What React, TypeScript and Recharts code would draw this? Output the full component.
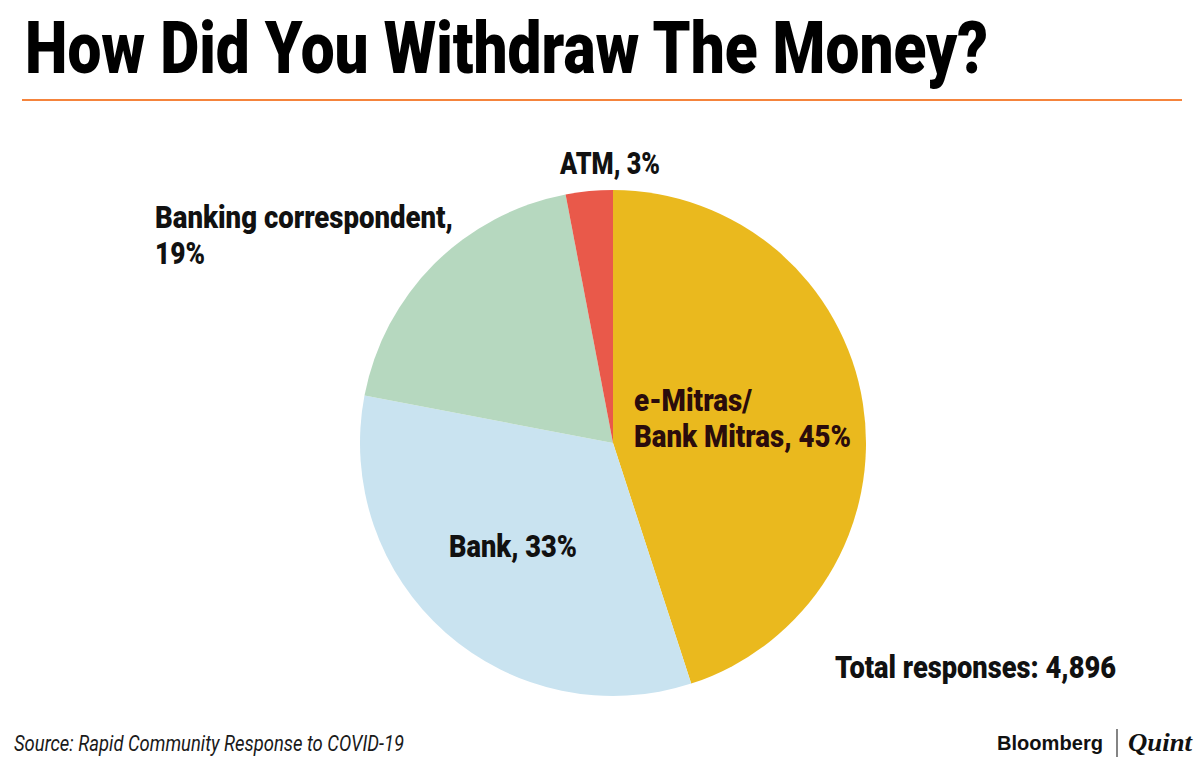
import React from "react";
import { PieChart, Pie, Cell } from "recharts";

const categories = ["e-Mitras/Bank Mitras", "Bank", "Banking correspondent", "ATM"];
const shares = [45, 33, 19, 3];
const colors = ["#EAB91E", "#C9E3F0", "#B6D8BF", "#E9594A"];

const title = "How Did You Withdraw The Money?";
const source = "Source: Rapid Community Response to COVID-19";
const totalNote = "Total responses: 4,896";

const data = categories.map((name, i) => ({ name, value: shares[i] }));

type Line = { text: string; x: number; y: number; w: number; fill?: string };

const labelLines: Line[] = [
  { text: "e-Mitras/", x: 634, y: 411, w: 118, fill: "#2a0c0c" },
  { text: `Bank Mitras, ${shares[0]}%`, x: 634, y: 447, w: 217, fill: "#2a0c0c" },
  { text: `Bank, ${shares[1]}%`, x: 449, y: 557, w: 128 },
  { text: "Banking correspondent,", x: 155, y: 228, w: 298 },
  { text: `${shares[2]}%`, x: 155, y: 264, w: 50 },
  { text: `ATM, ${shares[3]}%`, x: 560, y: 174, w: 100 },
  { text: totalNote, x: 835, y: 678, w: 281 },
];

const FONT = "Roboto, 'Noto Sans', sans-serif";

const T = ({ l, size = 32 }: { l: Line; size?: number }) => (
  <text
    x={l.x}
    y={l.y}
    fontFamily={FONT}
    fontWeight={900}
    fontSize={size}
    fill={l.fill || "#111"}
    textLength={l.w}
    lengthAdjust="spacingAndGlyphs"
  >
    {l.text}
  </text>
);

export default function App() {
  return (
    <div style={{ position: "absolute", left: 0, top: 0, width: 1200, height: 766, background: "#fff" }}>
      <PieChart
        width={1200}
        height={766}
        margin={{ top: 0, right: 0, bottom: 0, left: 0 }}
        style={{ position: "absolute", left: 0, top: 0 }}
      >
        <Pie
          data={data}
          dataKey="value"
          nameKey="name"
          cx={613}
          cy={443}
          outerRadius={253}
          startAngle={90}
          endAngle={-270}
          stroke="none"
          isAnimationActive={false}
        >
          {data.map((d, i) => (
            <Cell key={d.name} fill={colors[i]} />
          ))}
        </Pie>
      </PieChart>
      <svg width={1200} height={766} style={{ position: "absolute", left: 0, top: 0, pointerEvents: "none" }}>
        <text
          x={25}
          y={73}
          fontFamily={FONT}
          fontWeight={900}
          fontSize={72}
          fill="#000"
          textLength={963}
          lengthAdjust="spacingAndGlyphs"
        >
          {title}
        </text>
        <line x1={22} y1={100} x2={1182} y2={100} stroke="#F5843C" strokeWidth={2} />
        {labelLines.map((l, i) => (
          <T key={i} l={l} />
        ))}
        <text
          x={14}
          y={751}
          fontFamily={FONT}
          fontStyle="italic"
          fontSize={22}
          fill="#1a1a1a"
          textLength={390}
          lengthAdjust="spacingAndGlyphs"
        >
          {source}
        </text>
        <text
          x={997}
          y={750}
          fontFamily="'Liberation Sans', Arial, sans-serif"
          fontWeight={700}
          fontSize={20}
          fill="#111"
          textLength={106}
          lengthAdjust="spacingAndGlyphs"
        >
          Bloomberg
        </text>
        <line x1={1117} y1={729} x2={1117} y2={757} stroke="#333" strokeWidth={1.2} />
        <text
          x={1128}
          y={751}
          fontFamily="'Liberation Serif', 'DejaVu Serif', serif"
          fontWeight={700}
          fontStyle="italic"
          fontSize={26}
          fill="#111"
          textLength={64}
          lengthAdjust="spacingAndGlyphs"
        >
          Quint
        </text>
      </svg>
    </div>
  );
}
